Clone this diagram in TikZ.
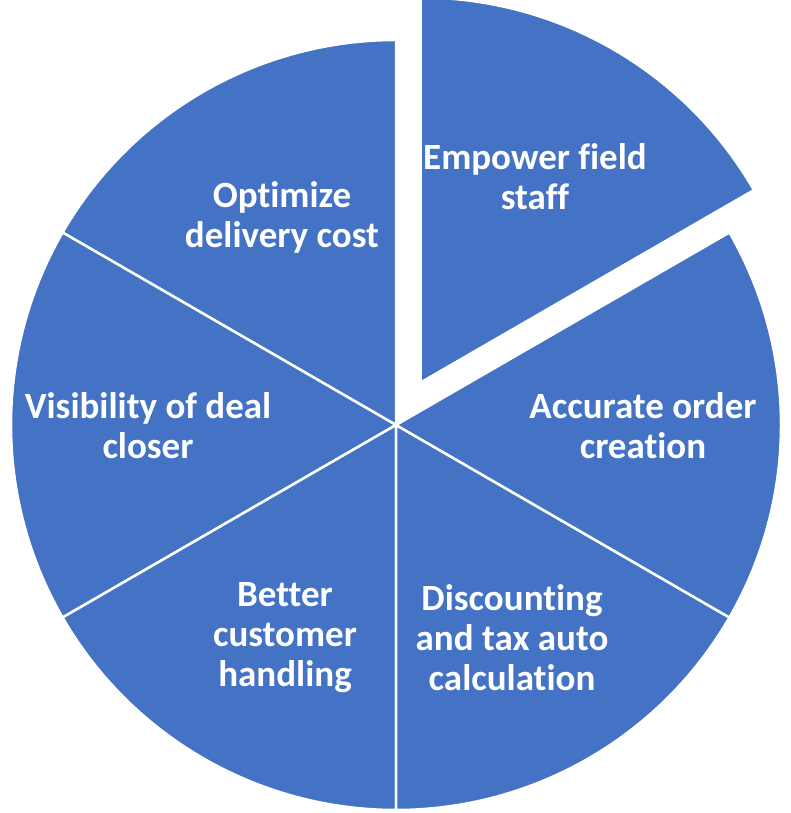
\documentclass[tikz,border=0pt]{standalone}
\usepackage{fontspec}
\setmainfont{Carlito}[Ligatures=NoCommon]
\usetikzlibrary{calc}
\definecolor{pieblue}{HTML}{4472C4}
\begin{document}
\begin{tikzpicture}[x=1pt,y=1pt,
  slice/.style={fill=pieblue,draw=white,line width=2.5pt,line join=miter},
  lbl/.style={text=white,font=\fontsize{37}{40}\selectfont\bfseries,align=center,inner sep=0pt}]
\useasboundingbox (0,0) rectangle (790,813);
\coordinate (c) at (396,388);
\coordinate (ce) at ($(c)+(60:49pt)$);
% exploded slice
\draw[slice] (ce) -- ++(30:385pt) arc[start angle=30,end angle=90,radius=385pt] -- cycle;
% other slices
\foreach \a in {90,150,210,270,330}{
  \draw[slice] (c) -- ++(\a:385pt) arc[start angle=\a,end angle=\a+60,radius=385pt] -- cycle;
}
\node[lbl] (empower) at (535,636) {Empower field\\staff};
\node[lbl] (optimize) at (282,596) {Optimize\\delivery cost};
\node[lbl] (accurate) at (643,387) {Accurate order\\creation};
\node[lbl] (visibility) at (148,387) {Visibility of deal\\closer};
\node[lbl] (better) at (285,175) {Better\\customer\\handling};
\node[lbl] (discount) at (512,175) {Discounting\\and tax auto\\calculation};
\end{tikzpicture}
\end{document}
